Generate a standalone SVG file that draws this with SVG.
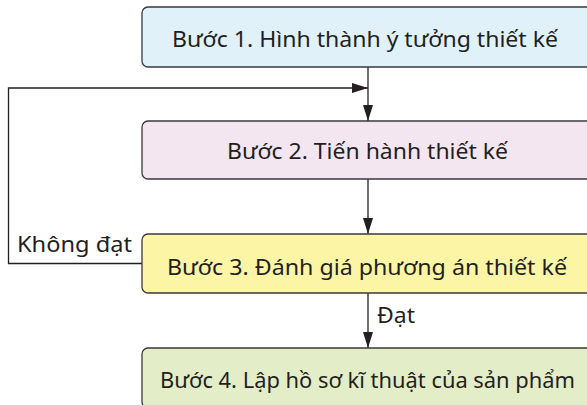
<svg xmlns="http://www.w3.org/2000/svg" width="587" height="405" viewBox="0 0 587 405">
<style>
.box{stroke:#3a3a3a;stroke-width:1.3}
.t{font-family:"Noto Sans","Open Sans",sans-serif;font-size:22px;fill:#231f20}
.lbl{font-family:"Noto Sans","Open Sans",sans-serif;font-size:21.5px;fill:#231f20}
.c{fill:none;stroke:#231f20;stroke-width:1.3}
</style>
<defs>
<marker id="ah" markerWidth="16" markerHeight="10" refX="16" refY="5" orient="auto" markerUnits="userSpaceOnUse">
<path d="M0,0 L16,5 L0,10 Z" fill="#231f20"/>
</marker>
</defs>
<g id="connectors">
<line class="c" x1="368" y1="67" x2="368" y2="121" marker-end="url(#ah)"/>
<line class="c" x1="368" y1="179" x2="368" y2="234" marker-end="url(#ah)"/>
<line class="c" x1="368" y1="293" x2="368" y2="348" marker-end="url(#ah)"/>
<polyline class="c" points="142,263.5 8.5,263.5 8.5,88 368,88" marker-end="url(#ah)"/>
<text class="lbl" x="377" y="323" textLength="38" lengthAdjust="spacingAndGlyphs">Đạt</text>
<text class="lbl" x="17" y="252" textLength="115" lengthAdjust="spacingAndGlyphs">Không đạt</text>
</g>
<g id="step1">
<rect class="box" x="142" y="7" width="460" height="60" rx="6" fill="#e0f1fa"/>
<text class="t" x="172" y="47" textLength="386" lengthAdjust="spacingAndGlyphs">Bước 1. Hình thành ý tưởng thiết kế</text>
</g>
<g id="step2">
<rect class="box" x="142" y="121" width="460" height="58" rx="6" fill="#f3e6f1"/>
<text class="t" x="227" y="159" textLength="281" lengthAdjust="spacingAndGlyphs">Bước 2. Tiến hành thiết kế</text>
</g>
<g id="step3">
<rect class="box" x="142" y="234" width="460" height="59" rx="6" fill="#fbf5a5"/>
<text class="t" x="167" y="275" textLength="400" lengthAdjust="spacingAndGlyphs">Bước 3. Đánh giá phương án thiết kế</text>
</g>
<g id="step4">
<rect class="box" x="142" y="348" width="460" height="60" rx="6" fill="#e3edc8"/>
<text class="t" x="160" y="388" textLength="415" lengthAdjust="spacingAndGlyphs">Bước 4. Lập hồ sơ kĩ thuật của sản phẩm</text>
</g>
</svg>
